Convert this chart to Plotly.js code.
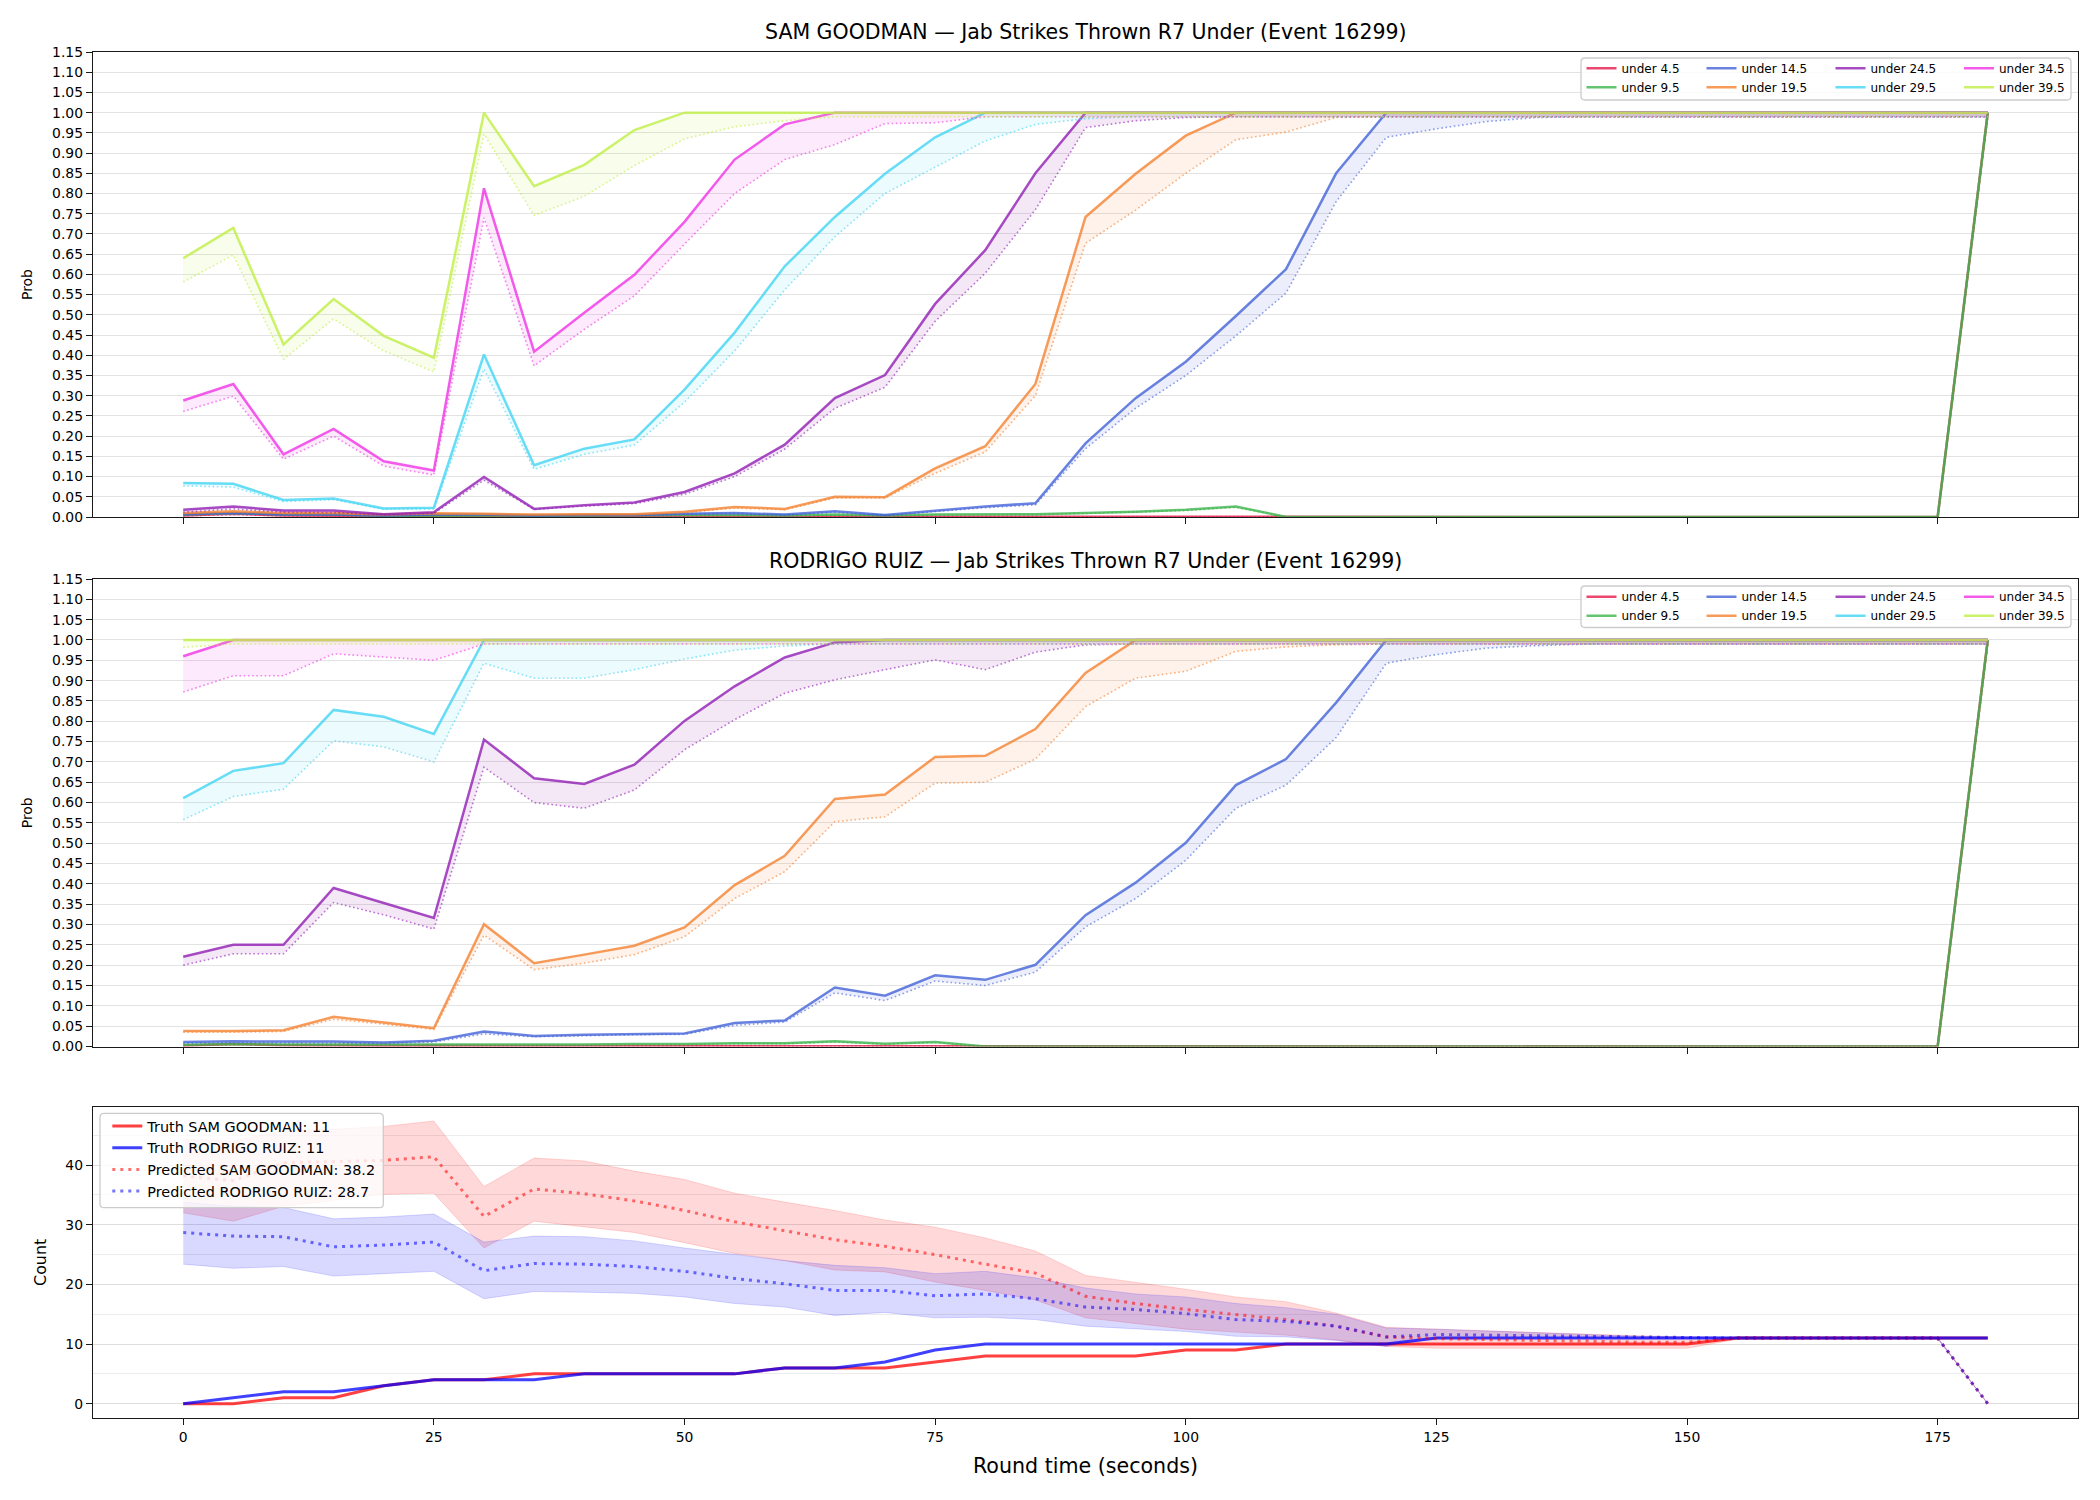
<!DOCTYPE html>
<html>
<head>
<meta charset="utf-8">
<script src="https://cdn.plot.ly/plotly-3.0.1.min.js"></script>
<style>
  html, body { margin: 0; padding: 0; background: #ffffff; }
  #chart { width: 2100px; height: 1500px; }
</style>
</head>
<body>
<div id="chart"></div>
<script>
// ---------------- DATA ----------------
const t = [0,5,10,15,20,25,30,35,40,45,50,55,60,65,70,75,80,85,90,95,100,105,110,115,120,125,130,135,140,145,150,155,160,165,170,175,180];

const thresholdLabels = ['under 4.5','under 9.5','under 14.5','under 19.5','under 24.5','under 29.5','under 34.5','under 39.5'];

// SAM GOODMAN — solid lines and dotted (lower) lines
const samU4_5    = [0.004,0.008,0.004,0.003,0.002,0.002,0.001,0.001,0.001,0.001, 0.001,0,0,0,0,0,0,0,0,0, 0,0,0,0,0,0,0,0,0,0, 0,0,0,0,0,0,1];
const samU4_5Lo  = [0.003,0.006,0.003,0.002,0.001,0.001,0.001,0.001,0.001,0.001, 0,0,0,0,0,0,0,0,0,0, 0,0,0,0,0,0,0,0,0,0, 0,0,0,0,0,0,0.99];
const samU9_5    = [0.006,0.010,0.006,0.006,0.003,0.004,0.004,0.003,0.004,0.004, 0.005,0.005,0.004,0.006,0.004,0.006,0.006,0.007,0.010,0.013, 0.018,0.026,0,0,0,0,0,0,0,0, 0,0,0,0,0,0,1];
const samU9_5Lo  = [0.005,0.009,0.005,0.005,0.003,0.003,0.003,0.003,0.003,0.003, 0.004,0.004,0.004,0.005,0.004,0.005,0.005,0.006,0.009,0.012, 0.016,0.024,0,0,0,0,0,0,0,0, 0,0,0,0,0,0,0.99];
const samU14_5   = [0.007,0.010,0.006,0.006,0.004,0.006,0.006,0.004,0.005,0.005, 0.008,0.010,0.006,0.014,0.005,0.016,0.026,0.034,0.182,0.294, 0.384,0.497,0.613,0.850,1,1,1,1,1,1, 1,1,1,1,1,1,1];
const samU14_5Lo = [0.006,0.009,0.005,0.005,0.003,0.005,0.005,0.003,0.004,0.004, 0.007,0.009,0.005,0.012,0.004,0.014,0.023,0.030,0.169,0.269, 0.350,0.448,0.554,0.780,0.939,0.960,0.978,0.988,0.99,0.99, 0.99,0.99,0.99,0.99,0.99,0.99,0.99];
const samU19_5   = [0.010,0.014,0.010,0.010,0.006,0.009,0.008,0.006,0.007,0.007, 0.013,0.025,0.020,0.050,0.049,0.120,0.175,0.329,0.742,0.849, 0.943,1,1,1,1,1,1,1,1,1, 1,1,1,1,1,1,1];
const samU19_5Lo = [0.009,0.012,0.009,0.009,0.005,0.008,0.007,0.005,0.006,0.006, 0.011,0.022,0.018,0.047,0.047,0.108,0.161,0.300,0.677,0.759, 0.850,0.933,0.952,0.988,0.99,0.99,0.99,0.99,0.99,0.99, 0.99,0.99,0.99,0.99,0.99,0.99,0.99];
const samU24_5   = [0.018,0.026,0.016,0.016,0.007,0.012,0.099,0.020,0.029,0.036, 0.062,0.108,0.179,0.294,0.351,0.527,0.660,0.850,1,1, 1,1,1,1,1,1,1,1,1,1, 1,1,1,1,1,1,1];
const samU24_5Lo = [0.012,0.020,0.012,0.011,0.005,0.009,0.091,0.019,0.027,0.033, 0.056,0.100,0.168,0.269,0.321,0.484,0.603,0.760,0.963,0.980, 0.988,0.99,0.99,0.99,0.99,0.99,0.99,0.99,0.99,0.99, 0.99,0.99,0.99,0.99,0.99,0.99,0.99];
const samU29_5   = [0.084,0.082,0.042,0.046,0.021,0.023,0.402,0.128,0.169,0.192, 0.315,0.456,0.620,0.742,0.849,0.939,1,1,1,1, 1,1,1,1,1,1,1,1,1,1, 1,1,1,1,1,1,1];
const samU29_5Lo = [0.077,0.074,0.038,0.043,0.019,0.019,0.366,0.118,0.155,0.178, 0.284,0.411,0.562,0.693,0.800,0.865,0.930,0.971,0.985,0.99, 0.99,0.99,0.99,0.99,0.99,0.99,0.99,0.99,0.99,0.99, 0.99,0.99,0.99,0.99,0.99,0.99,0.99];
const samU34_5   = [0.288,0.329,0.155,0.218,0.138,0.115,0.813,0.409,0.505,0.599, 0.730,0.884,0.971,1,1,1,1,1,1,1, 1,1,1,1,1,1,1,1,1,1, 1,1,1,1,1,1,1];
const samU34_5Lo = [0.261,0.299,0.143,0.200,0.126,0.104,0.740,0.374,0.464,0.547, 0.675,0.800,0.884,0.921,0.973,0.975,0.99,0.99,0.99,0.99, 0.99,0.99,0.99,0.99,0.99,0.99,0.99,0.99,0.99,0.99, 0.99,0.99,0.99,0.99,0.99,0.99,0.99];
const samU39_5   = [0.640,0.715,0.427,0.539,0.448,0.394,1,0.818,0.871,0.957, 1,1,1,1,1,1,1,1,1,1, 1,1,1,1,1,1,1,1,1,1, 1,1,1,1,1,1,1];
const samU39_5Lo = [0.581,0.648,0.390,0.490,0.411,0.359,0.947,0.746,0.793,0.869, 0.935,0.965,0.980,0.99,0.99,0.99,0.99,0.99,0.99,0.99, 0.99,0.99,0.99,0.99,0.99,0.99,0.99,0.99,0.99,0.99, 0.99,0.99,0.99,0.99,0.99,0.99,0.99];

// RODRIGO RUIZ — solid lines and dotted (lower) lines
const rodU4_5    = [0.002,0.006,0.003,0.002,0.002,0.002,0.001,0.001,0.001,0.001, 0.001,0.001,0,0,0,0,0,0,0,0, 0,0,0,0,0,0,0,0,0,0, 0,0,0,0,0,0,1];
const rodU4_5Lo  = [0.002,0.005,0.002,0.002,0.001,0.001,0.001,0.001,0.001,0.001, 0.001,0.001,0,0,0,0,0,0,0,0, 0,0,0,0,0,0,0,0,0,0, 0,0,0,0,0,0,0.99];
const rodU9_5    = [0.004,0.006,0.005,0.005,0.004,0.005,0.005,0.005,0.005,0.006, 0.006,0.008,0.008,0.013,0.007,0.011,0,0,0,0, 0,0,0,0,0,0,0,0,0,0, 0,0,0,0,0,0,1];
const rodU9_5Lo  = [0.003,0.005,0.004,0.004,0.003,0.004,0.004,0.004,0.004,0.005, 0.005,0.007,0.007,0.011,0.006,0.010,0,0,0,0, 0,0,0,0,0,0,0,0,0,0, 0,0,0,0,0,0,0.99];
const rodU14_5   = [0.011,0.013,0.012,0.012,0.010,0.014,0.037,0.026,0.029,0.031, 0.032,0.058,0.064,0.145,0.125,0.175,0.164,0.201,0.323,0.403, 0.501,0.643,0.707,0.846,1,1,1,1,1,1, 1,1,1,1,1,1,1];
const rodU14_5Lo = [0.008,0.010,0.009,0.009,0.008,0.011,0.031,0.024,0.027,0.029, 0.030,0.052,0.060,0.132,0.113,0.161,0.150,0.183,0.294,0.364, 0.458,0.586,0.643,0.760,0.943,0.964,0.980,0.986,0.99,0.99, 0.99,0.99,0.99,0.99,0.99,0.99,0.99];
const rodU19_5   = [0.038,0.038,0.040,0.073,0.059,0.045,0.301,0.205,0.226,0.248, 0.293,0.397,0.469,0.609,0.620,0.712,0.715,0.781,0.919,1, 1,1,1,1,1,1,1,1,1,1, 1,1,1,1,1,1,1];
const rodU19_5Lo = [0.035,0.035,0.037,0.067,0.055,0.042,0.274,0.189,0.205,0.226, 0.270,0.364,0.430,0.553,0.565,0.648,0.650,0.707,0.836,0.906, 0.923,0.972,0.983,0.988,0.99,0.99,0.99,0.99,0.99,0.99, 0.99,0.99,0.99,0.99,0.99,0.99,0.99];
const rodU24_5   = [0.221,0.250,0.250,0.390,0.353,0.316,0.755,0.660,0.646,0.693, 0.801,0.886,0.957,0.994,1,1,1,1,1,1, 1,1,1,1,1,1,1,1,1,1, 1,1,1,1,1,1,1];
const rodU24_5Lo = [0.200,0.228,0.228,0.354,0.324,0.289,0.687,0.600,0.586,0.631, 0.730,0.804,0.869,0.902,0.927,0.951,0.927,0.970,0.988,0.99, 0.99,0.99,0.99,0.99,0.99,0.99,0.99,0.99,0.99,0.99, 0.99,0.99,0.99,0.99,0.99,0.99,0.99];
const rodU29_5   = [0.611,0.678,0.697,0.828,0.811,0.769,1,1,1,1, 1,1,1,1,1,1,1,1,1,1, 1,1,1,1,1,1,1,1,1,1, 1,1,1,1,1,1,1];
const rodU29_5Lo = [0.558,0.615,0.633,0.752,0.737,0.700,0.943,0.906,0.906,0.927, 0.953,0.975,0.985,0.99,0.99,0.99,0.99,0.99,0.99,0.99, 0.99,0.99,0.99,0.99,0.99,0.99,0.99,0.99,0.99,0.99, 0.99,0.99,0.99,0.99,0.99,0.99,0.99];
const rodU34_5   = [0.960,1,1,1,1,1,1,1,1,1, 1,1,1,1,1,1,1,1,1,1, 1,1,1,1,1,1,1,1,1,1, 1,1,1,1,1,1,1];
const rodU34_5Lo = [0.872,0.912,0.912,0.966,0.958,0.950,0.99,0.99,0.99,0.99, 0.99,0.99,0.99,0.99,0.99,0.99,0.99,0.99,0.99,0.99, 0.99,0.99,0.99,0.99,0.99,0.99,0.99,0.99,0.99,0.99, 0.99,0.99,0.99,0.99,0.99,0.99,0.99];
const rodU39_5   = [1,1,1,1,1,1,1,1,1,1, 1,1,1,1,1,1,1,1,1,1, 1,1,1,1,1,1,1,1,1,1, 1,1,1,1,1,1,1];
const rodU39_5Lo = [0.982,0.99,0.99,0.99,0.99,0.99,0.99,0.99,0.99,0.99, 0.99,0.99,0.99,0.99,0.99,0.99,0.99,0.99,0.99,0.99, 0.99,0.99,0.99,0.99,0.99,0.99,0.99,0.99,0.99,0.99, 0.99,0.99,0.99,0.99,0.99,0.99,0.99];

// Bottom panel: counts
const truthSam   = [0,0,1,1,3,4,4,5,5,5, 5,5,6,6,6,7,8,8,8,8, 9,9,10,10,10,10,10,10,10,10, 10,11,11,11,11,11,11];
const truthRod   = [0,1,2,2,3,4,4,4,5,5, 5,5,6,6,7,9,10,10,10,10, 10,10,10,10,10,11,11,11,11,11, 11,11,11,11,11,11,11];
const predSam    = [38.2,37.4,40.4,40.6,40.8,41.4,31.4,36.0,35.2,34.0, 32.4,30.5,29.0,27.5,26.4,25.0,23.4,21.9,18.0,16.8, 15.8,14.9,14.1,13.0,11.2,10.9,10.7,10.6,10.5,10.3, 10.3,11.0,11.0,11.0,11.0,11.0,0];
const predRod    = [28.7,28.1,28.0,26.3,26.6,27.1,22.3,23.5,23.4,23.0, 22.2,21.0,20.1,19.0,19.0,18.1,18.4,17.6,16.2,15.8, 15.1,14.1,13.8,13.0,11.2,11.6,11.5,11.4,11.2,11.1, 11.0,11.0,11.0,11.0,11.0,11.0,0];
const samBandLo  = [32.0,30.6,33.1,34.1,35.1,35.3,26.1,30.6,29.6,28.7, 27.0,25.2,24.0,22.4,22.1,20.4,19.0,17.4,14.4,13.4, 12.5,12.0,11.5,10.7,9.6,9.3,9.3,9.3,9.3,9.3, 9.3,10.8,10.9,10.9,10.9,10.9,0];
const samBandHi  = [44.4,44.0,45.8,46.0,46.5,47.4,36.4,41.2,40.7,39.0, 37.6,35.3,33.8,32.4,30.8,29.6,27.8,25.6,21.5,20.4, 19.2,17.9,17.1,15.2,12.8,12.5,12.2,12.0,11.7,11.4, 11.2,11.2,11.1,11.1,11.1,11.1,0];
const rodBandLo  = [23.4,22.7,23.0,21.4,21.8,22.2,17.6,18.8,18.7,18.5, 17.9,16.8,16.2,14.8,15.3,14.4,14.5,14.1,13.0,12.5, 12.1,11.3,11.2,10.6,9.6,11.0,11.0,11.0,11.0,11.0, 11.0,10.9,10.9,10.9,10.9,10.9,0];
const rodBandHi  = [33.8,33.1,32.9,31.0,31.3,31.8,27.1,28.1,28.0,27.3, 26.1,25.0,24.0,23.2,22.8,21.8,22.2,21.1,19.4,18.4, 17.9,16.8,16.1,15.0,12.7,12.5,12.2,12.0,11.6,11.3, 11.2,11.1,11.1,11.1,11.1,11.1,0];

// Tick labels
const probTicks = [0,0.05,0.10,0.15,0.20,0.25,0.30,0.35,0.40,0.45,0.50,0.55,0.60,0.65,0.70,0.75,0.80,0.85,0.90,0.95,1.00,1.05,1.10,1.15];
const probTickText = ['0.00','0.05','0.10','0.15','0.20','0.25','0.30','0.35','0.40','0.45','0.50','0.55','0.60','0.65','0.70','0.75','0.80','0.85','0.90','0.95','1.00','1.05','1.10','1.15'];
const timeTicks = [0,25,50,75,100,125,150,175];
const countTicks = [0,10,20,30,40];

const titleTop = 'SAM GOODMAN — Jab Strikes Thrown R7 Under (Event 16299)';
const titleMid = 'RODRIGO RUIZ — Jab Strikes Thrown R7 Under (Event 16299)';

// ---------------- STYLE ----------------
const FONT = 'DejaVu Sans, Liberation Sans, sans-serif';
const thresholdColors = ['230,25,75','60,180,75','67,99,216','245,130,49','145,30,180','66,212,244','240,50,230','191,239,69'];
const W = 2100, H = 1500;
const px = v => v / W;
const py = v => 1 - v / H;

const samLines = [samU4_5,samU9_5,samU14_5,samU19_5,samU24_5,samU29_5,samU34_5,samU39_5];
const samLows  = [samU4_5Lo,samU9_5Lo,samU14_5Lo,samU19_5Lo,samU24_5Lo,samU29_5Lo,samU34_5Lo,samU39_5Lo];
const rodLines = [rodU4_5,rodU9_5,rodU14_5,rodU19_5,rodU24_5,rodU29_5,rodU34_5,rodU39_5];
const rodLows  = [rodU4_5Lo,rodU9_5Lo,rodU14_5Lo,rodU19_5Lo,rodU24_5Lo,rodU29_5Lo,rodU34_5Lo,rodU39_5Lo];

const traces = [];
function addProbPanel(lines, lows, xa, ya, legendNames) {
  for (let i = 0; i < lines.length; i++) {
    const c = thresholdColors[i];
    const lg = legendNames[Math.floor(i / 2)];
    traces.push({x: t, y: lows[i], xaxis: xa, yaxis: ya, mode: 'lines', legend: lg,
      line: {width: 0, color: 'rgba(0,0,0,0)'}, showlegend: false, hoverinfo: 'skip'});
    traces.push({x: t, y: lines[i], xaxis: xa, yaxis: ya, mode: 'lines', legend: lg,
      line: {width: 0, color: 'rgba(0,0,0,0)'}, fill: 'tonexty', fillcolor: 'rgba(' + c + ',0.10)',
      showlegend: false, hoverinfo: 'skip'});
    traces.push({x: t, y: lows[i], xaxis: xa, yaxis: ya, mode: 'lines', legend: lg,
      line: {width: 1.6, color: 'rgba(' + c + ',0.6)', dash: '1.6px,2.6px'}, showlegend: false});
    traces.push({x: t, y: lines[i], xaxis: xa, yaxis: ya, mode: 'lines', name: thresholdLabels[i],
      line: {width: 2.5, color: 'rgba(' + c + ',0.8)'}, showlegend: true, legend: lg});
  }
}
addProbPanel(samLines, samLows, 'x', 'y', ['legend', 'legend2', 'legend3', 'legend4']);
addProbPanel(rodLines, rodLows, 'x2', 'y2', ['legend5', 'legend6', 'legend7', 'legend8']);

// bottom panel
function band(lo, hi, rgb) {
  traces.push({x: t, y: lo, xaxis: 'x3', yaxis: 'y3', mode: 'lines', legend: 'legend9',
    line: {width: 1, color: 'rgba(' + rgb + ',0.15)'}, showlegend: false, hoverinfo: 'skip'});
  traces.push({x: t, y: hi, xaxis: 'x3', yaxis: 'y3', mode: 'lines', legend: 'legend9',
    line: {width: 1, color: 'rgba(' + rgb + ',0.15)'}, fill: 'tonexty', fillcolor: 'rgba(' + rgb + ',0.15)',
    showlegend: false, hoverinfo: 'skip'});
}
band(samBandLo, samBandHi, '255,0,0');
band(rodBandLo, rodBandHi, '0,0,255');
traces.push({x: t, y: truthSam, xaxis: 'x3', yaxis: 'y3', mode: 'lines', legend: 'legend9',
  name: 'Truth SAM GOODMAN: ' + truthSam[truthSam.length - 1],
  line: {width: 3, color: 'rgba(255,0,0,0.75)'}});
traces.push({x: t, y: truthRod, xaxis: 'x3', yaxis: 'y3', mode: 'lines', legend: 'legend9',
  name: 'Truth RODRIGO RUIZ: ' + truthRod[truthRod.length - 1],
  line: {width: 3, color: 'rgba(0,0,255,0.75)'}});
traces.push({x: t, y: predSam, xaxis: 'x3', yaxis: 'y3', mode: 'lines', legend: 'legend9',
  name: 'Predicted SAM GOODMAN: ' + predSam[0].toFixed(1),
  line: {width: 3, color: 'rgba(255,0,0,0.55)', dash: '3px,5px'}});
traces.push({x: t, y: predRod, xaxis: 'x3', yaxis: 'y3', mode: 'lines', legend: 'legend9',
  name: 'Predicted RODRIGO RUIZ: ' + predRod[0].toFixed(1),
  line: {width: 3, color: 'rgba(0,0,255,0.55)', dash: '3px,5px'}});

// ---------------- LAYOUT ----------------
const xDomain = [px(93), px(2078)];
const spine = '#1a1a1a';
const gridC = '#e3e3e3';
const tickFont = {family: FONT, size: 13.9, color: '#000'};

function xAxis(anchor, showLabels, match) {
  const a = {domain: xDomain, range: [-9, 189], anchor: anchor, tickmode: 'array', tickvals: timeTicks,
    showticklabels: showLabels, ticks: 'outside', ticklen: 6, tickwidth: 1.2, tickcolor: spine,
    showline: true, mirror: true, linecolor: spine, linewidth: 1.4, showgrid: false, zeroline: false,
    tickfont: tickFont};
  if (match) a.matches = match;
  return a;
}
function probAxis(anchor, domain) {
  return {domain: domain, range: [0, 1.15], anchor: anchor, tickmode: 'array', tickvals: probTicks,
    ticktext: probTickText, ticks: 'outside', ticklen: 6, tickwidth: 1.2, tickcolor: spine,
    showline: true, mirror: true, linecolor: spine, linewidth: 1.4, showgrid: true, gridcolor: gridC,
    gridwidth: 1, zeroline: false, tickfont: tickFont,
    title: {text: 'Prob', font: {family: FONT, size: 13.9, color: '#000'}, standoff: 16}};
}

function roundRect(x0, y0, x1, y1, r) {
  const X = v => px(v), Y = v => py(v);
  return 'M' + X(x0 + r) + ',' + Y(y0) + ' L' + X(x1 - r) + ',' + Y(y0) +
    ' Q' + X(x1) + ',' + Y(y0) + ' ' + X(x1) + ',' + Y(y0 + r) +
    ' L' + X(x1) + ',' + Y(y1 - r) + ' Q' + X(x1) + ',' + Y(y1) + ' ' + X(x1 - r) + ',' + Y(y1) +
    ' L' + X(x0 + r) + ',' + Y(y1) + ' Q' + X(x0) + ',' + Y(y1) + ' ' + X(x0) + ',' + Y(y1 - r) +
    ' L' + X(x0) + ',' + Y(y0 + r) + ' Q' + X(x0) + ',' + Y(y0) + ' ' + X(x0 + r) + ',' + Y(y0) + ' Z';
}
const boxStyle = {type: 'path', xref: 'paper', yref: 'paper', fillcolor: 'rgba(255,255,255,0.8)',
  line: {color: '#cccccc', width: 1.3}, layer: 'above'};

function legendAt(xPix, topPix, size) {
  return {x: px(xPix), y: py(topPix), xanchor: 'left', yanchor: 'top', orientation: 'v',
    traceorder: 'normal', bgcolor: 'rgba(0,0,0,0)', borderwidth: 0, tracegroupgap: 0,
    font: {family: FONT, size: size, color: '#000'}};
}
const colOrigins = [1581.5, 1701.5, 1830.5, 1959];

const layout = {
  width: W, height: H,
  margin: {l: 0, r: 0, t: 0, b: 0},
  paper_bgcolor: '#ffffff', plot_bgcolor: '#ffffff',
  font: {family: FONT, color: '#000'},
  hovermode: false,
  xaxis: xAxis('y', false),
  yaxis: probAxis('x', [py(517), py(52)]),
  xaxis2: xAxis('y2', false, 'x'),
  yaxis2: probAxis('x2', [py(1046.5), py(579)]),
  xaxis3: Object.assign(xAxis('y3', true, 'x'), {
    title: {text: 'Round time (seconds)', font: {family: FONT, size: 20.6, color: '#000'}, standoff: 14}}),
  yaxis3: {domain: [py(1418), py(1106.7)], range: [-2.4, 49.8], anchor: 'x3', tickmode: 'array',
    tickvals: countTicks, ticks: 'outside', ticklen: 6, tickwidth: 1.2, tickcolor: spine,
    showline: true, mirror: true, linecolor: spine, linewidth: 1.4, showgrid: true, gridcolor: '#dedede',
    gridwidth: 1, zeroline: false, tickfont: tickFont,
    minor: {tick0: 0, dtick: 5, showgrid: true, gridcolor: '#ececec', gridwidth: 1},
    title: {text: 'Count', font: {family: FONT, size: 15.9, color: '#000'}, standoff: 14}},
  legend:  legendAt(colOrigins[0], 53.8, 12),
  legend2: legendAt(colOrigins[1], 53.8, 12),
  legend3: legendAt(colOrigins[2], 53.8, 12),
  legend4: legendAt(colOrigins[3], 53.8, 12),
  legend5: legendAt(colOrigins[0], 582.2, 12),
  legend6: legendAt(colOrigins[1], 582.2, 12),
  legend7: legendAt(colOrigins[2], 582.2, 12),
  legend8: legendAt(colOrigins[3], 582.2, 12),
  legend9: legendAt(107.3, 1110.1, 14.4),
  shapes: [
    Object.assign({path: roundRect(1581, 58, 2071, 100, 4)}, boxStyle),
    Object.assign({path: roundRect(1581, 586, 2071, 627.5, 4)}, boxStyle),
    Object.assign({path: roundRect(100, 1113.3, 383.3, 1207.7, 4)}, boxStyle)
  ],
  annotations: [
    {text: titleTop, xref: 'paper', yref: 'paper', x: (xDomain[0] + xDomain[1]) / 2, y: py(32),
      xanchor: 'center', yanchor: 'middle', showarrow: false, font: {family: FONT, size: 20.5, color: '#000'}},
    {text: titleMid, xref: 'paper', yref: 'paper', x: (xDomain[0] + xDomain[1]) / 2, y: py(561),
      xanchor: 'center', yanchor: 'middle', showarrow: false, font: {family: FONT, size: 20.5, color: '#000'}}
  ]
};

Plotly.newPlot('chart', traces, layout, {displayModeBar: false, responsive: false});
</script>
</body>
</html>
